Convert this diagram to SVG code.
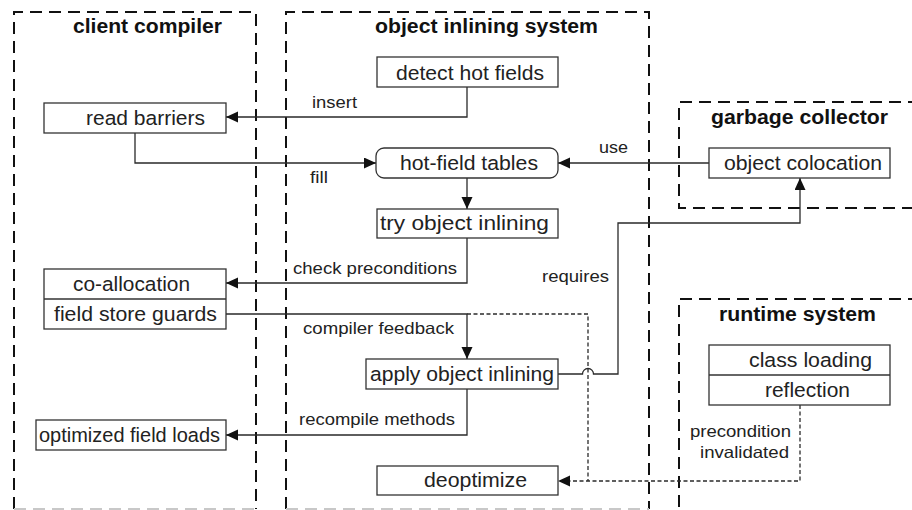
<svg xmlns="http://www.w3.org/2000/svg" width="912" height="510" viewBox="0 0 912 510">
<style>
.grp{fill:none;stroke:#111;stroke-width:2;stroke-dasharray:12 7}
.grpb{fill:none;stroke:#c8c8c8;stroke-width:2;stroke-dasharray:12 7}
.box{fill:#fff;stroke:#333;stroke-width:1.3}
.div{stroke:#333;stroke-width:1.3}
.con{fill:none;stroke:#2a2a2a;stroke-width:1.3}
.dash{fill:none;stroke:#2a2a2a;stroke-width:1.3;stroke-dasharray:4 2.5}
.t{font-family:"Liberation Sans",Arial,sans-serif;font-size:20.5px;fill:#222}
.h{font-family:"Liberation Sans",Arial,sans-serif;font-size:19.5px;font-weight:bold;fill:#111}
.l{font-family:"Liberation Sans",Arial,sans-serif;font-size:16.5px;fill:#222}
</style>
<defs>
<marker id="ah" markerUnits="userSpaceOnUse" markerWidth="13" markerHeight="12" refX="12" refY="5.5" orient="auto">
<path d="M0,0 L12,5.5 L0,11 z" fill="#111"/>
</marker>
</defs>

<g id="group-client-compiler">
<path class="grp" d="M14,509 V12 H256 V509"/>
<path class="grpb" d="M14,509 H256"/>
<text class="h" x="73" y="33" textLength="149" lengthAdjust="spacingAndGlyphs">client compiler</text>
</g>
<g id="group-object-inlining-system">
<path class="grp" d="M286,509 V12 H649 V509"/>
<path class="grpb" d="M286,509 H649"/>
<text class="h" x="375" y="33" textLength="223" lengthAdjust="spacingAndGlyphs">object inlining system</text>
</g>
<g id="group-garbage-collector">
<path class="grp" d="M920,102 H679 V208 H920"/>
<text class="h" x="711" y="124" textLength="177" lengthAdjust="spacingAndGlyphs">garbage collector</text>
</g>
<g id="group-runtime-system">
<path class="grp" d="M920,299 H679 V520"/>
<text class="h" x="719" y="321" textLength="157" lengthAdjust="spacingAndGlyphs">runtime system</text>
</g>

<g id="connectors">
<path class="con" d="M467,87 V117 H226" marker-end="url(#ah)"/>
<path class="con" d="M135,133 V163 H376" marker-end="url(#ah)"/>
<path class="con" d="M709,163 H558" marker-end="url(#ah)"/>
<path class="con" d="M467,178 V209" marker-end="url(#ah)"/>
<path class="con" d="M467,238 V283 H226" marker-end="url(#ah)"/>
<path class="con" d="M226,314 H467 V359" marker-end="url(#ah)"/>
<path class="dash" d="M467,314 H588 V481"/>
<path class="dash" d="M800,405 V481 H558" marker-end="url(#ah)"/>
<path class="con" d="M558,374 H582.5 A5.5,5.5 0 0 1 593.5,374 H618 V223 H800 V178" marker-end="url(#ah)"/>
<path class="con" d="M467,389 V435 H226" marker-end="url(#ah)"/>
<text class="l" x="312" y="108" textLength="45" lengthAdjust="spacingAndGlyphs">insert</text>
<text class="l" x="310" y="183" textLength="18" lengthAdjust="spacingAndGlyphs">fill</text>
<text class="l" x="599" y="153" textLength="29" lengthAdjust="spacingAndGlyphs">use</text>
<text class="l" x="293" y="274" textLength="164" lengthAdjust="spacingAndGlyphs">check preconditions</text>
<text class="l" x="542" y="282" textLength="67" lengthAdjust="spacingAndGlyphs">requires</text>
<text class="l" x="303" y="334" textLength="151" lengthAdjust="spacingAndGlyphs">compiler feedback</text>
<text class="l" x="299" y="425" textLength="156" lengthAdjust="spacingAndGlyphs">recompile methods</text>
<text class="l" x="690" y="437" textLength="101" lengthAdjust="spacingAndGlyphs">precondition</text>
<text class="l" x="700" y="458" textLength="89" lengthAdjust="spacingAndGlyphs">invalidated</text>
</g>

<g id="node-read-barriers">
<rect class="box" x="44" y="103" width="182" height="30"/>
<text class="t" x="86" y="125" textLength="119" lengthAdjust="spacingAndGlyphs">read barriers</text>
</g>
<g id="node-detect-hot-fields">
<rect class="box" x="377" y="57" width="181" height="30"/>
<text class="t" x="396" y="79.5" textLength="148" lengthAdjust="spacingAndGlyphs">detect hot fields</text>
</g>
<g id="node-hot-field-tables">
<rect class="box" x="376" y="148" width="182" height="30" rx="8"/>
<text class="t" x="400" y="169.5" textLength="138" lengthAdjust="spacingAndGlyphs">hot-field tables</text>
</g>
<g id="node-try-object-inlining">
<rect class="box" x="377" y="209" width="181" height="29"/>
<text class="t" x="380" y="230" textLength="169" lengthAdjust="spacingAndGlyphs">try object inlining</text>
</g>
<g id="node-object-colocation">
<rect class="box" x="709" y="148" width="181" height="30"/>
<text class="t" x="724" y="169.5" textLength="158" lengthAdjust="spacingAndGlyphs">object colocation</text>
</g>
<g id="node-co-allocation">
<rect class="box" x="44" y="269" width="182" height="60"/>
<line class="div" x1="44" y1="299" x2="226" y2="299"/>
<text class="t" x="73" y="290.5" textLength="117" lengthAdjust="spacingAndGlyphs">co-allocation</text>
<text class="t" x="54" y="320.5" textLength="163" lengthAdjust="spacingAndGlyphs">field store guards</text>
</g>
<g id="node-optimized-field-loads">
<rect class="box" x="36" y="420" width="190" height="30"/>
<text class="t" x="39" y="441.5" textLength="181" lengthAdjust="spacingAndGlyphs">optimized field loads</text>
</g>
<g id="node-apply-object-inlining">
<rect class="box" x="366" y="359" width="192" height="30"/>
<text class="t" x="370" y="380.5" textLength="184" lengthAdjust="spacingAndGlyphs">apply object inlining</text>
</g>
<g id="node-deoptimize">
<rect class="box" x="377" y="466" width="181" height="29"/>
<text class="t" x="424" y="487" textLength="103" lengthAdjust="spacingAndGlyphs">deoptimize</text>
</g>
<g id="node-class-loading">
<rect class="box" x="709" y="345" width="181" height="60"/>
<line class="div" x1="709" y1="375" x2="890" y2="375"/>
<text class="t" x="749" y="366.5" textLength="123" lengthAdjust="spacingAndGlyphs">class loading</text>
<text class="t" x="765" y="396.5" textLength="85" lengthAdjust="spacingAndGlyphs">reflection</text>
</g>
</svg>
